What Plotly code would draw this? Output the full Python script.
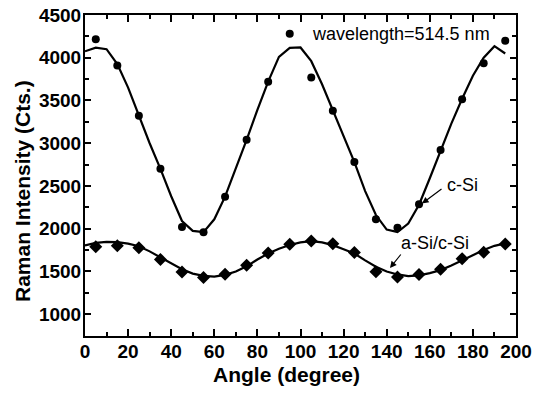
import plotly.graph_objects as go

# ---- data ----
point_angles = [5, 15, 25, 35, 45, 55, 65, 75, 85, 95, 105, 115, 125, 135, 145, 155, 165, 175, 185, 195]
csi_points = [4215, 3910, 3320, 2700, 2020, 1960, 2375, 3040, 3720, 4280, 3770, 3380, 2780, 2110, 2010, 2285, 2920, 3515, 3935, 4200]
asi_points = [1789, 1800, 1777, 1641, 1495, 1430, 1467, 1573, 1715, 1818, 1855, 1825, 1722, 1496, 1436, 1465, 1525, 1650, 1725, 1820]

fit_angles = [0, 5, 10, 15, 20, 25, 30, 35, 40, 45, 50, 55, 60, 65, 70, 75, 80, 85, 90, 95,
              100, 105, 110, 115, 120, 125, 130, 135, 140, 145, 150, 155, 160, 165, 170, 175, 180, 185, 190, 195]
csi_fit = [4075, 4118, 4100, 3925, 3650, 3320, 3000, 2700, 2380, 2090, 1975, 1960, 2110, 2375, 2700, 3040, 3390, 3720, 4010, 4115,
           4120, 3960, 3690, 3390, 3080, 2780, 2440, 2160, 1990, 1960, 2060, 2280, 2590, 2920, 3230, 3520, 3790, 4000, 4135, 4050]
asi_fit = [1805, 1835, 1847, 1843, 1825, 1795, 1735, 1665, 1590, 1525, 1475, 1448, 1440, 1460, 1500, 1560, 1640, 1710, 1765, 1810,
           1840, 1855, 1840, 1808, 1760, 1710, 1630, 1555, 1500, 1465, 1446, 1455, 1480, 1516, 1570, 1633, 1695, 1750, 1800, 1828]

x_tickvals = [0, 20, 40, 60, 80, 100, 120, 140, 160, 180, 200]
y_tickvals = [1000, 1500, 2000, 2500, 3000, 3500, 4000, 4500]

FONT = "Liberation Sans, Arial, sans-serif"

W, H = 535, 393
L, R, T, B = 85, 19, 15, 57
pw, ph = W - L - R, H - T - B

def px2paper(px, py):
    return (px - L) / pw, (H - B - py) / ph

fig = go.Figure()
fig.add_trace(go.Scatter(x=fit_angles, y=csi_fit, mode="lines",
                         line=dict(color="black", width=2.2), showlegend=False))
fig.add_trace(go.Scatter(x=fit_angles, y=asi_fit, mode="lines",
                         line=dict(color="black", width=2.2), showlegend=False))
fig.add_trace(go.Scatter(x=point_angles, y=csi_points, mode="markers",
                         marker=dict(symbol="circle", size=8, color="black"), showlegend=False))
fig.add_trace(go.Scatter(x=point_angles, y=asi_points, mode="markers",
                         marker=dict(symbol="diamond", size=10, color="black"), showlegend=False))

axis_common = dict(
    showgrid=False, zeroline=False, showline=True, linecolor="black", linewidth=2,
    mirror="ticks", ticks="inside", tickcolor="black", tickwidth=2, automargin=False,
    tickfont=dict(family=FONT, size=19, color="black", weight="bold"),
)

fig.update_xaxes(range=[0, 200], tickvals=x_tickvals, ticklen=7, ticklabelstandoff=-3,
                 minor=dict(dtick=10, ticks="inside", ticklen=4, tickcolor="black", tickwidth=2),
                 **axis_common)
fig.update_yaxes(range=[745, 4500], tickvals=y_tickvals, ticklen=6, ticklabelstandoff=-2,
                 minor=dict(dtick=250, ticks="inside", ticklen=4, tickcolor="black", tickwidth=2),
                 **axis_common)

ann_font = dict(family=FONT, size=18, color="black")
title_font = dict(family=FONT, size=21, color="black", weight="bold")

def text_at(txt, px, py, font, xanchor="center", **kw):
    x, y = px2paper(px, py)
    return dict(text=txt, x=x, y=y, xref="paper", yref="paper", showarrow=False, font=font,
                xanchor=xanchor, yanchor="middle", **kw)

def arrow(tail, head):
    hx, hy = px2paper(*head)
    return dict(text="", x=hx, y=hy, xref="paper", yref="paper",
                ax=tail[0] - head[0], ay=tail[1] - head[1],
                showarrow=True, arrowhead=2, arrowsize=1.1, arrowwidth=1.2, arrowcolor="black",
                standoff=0, startstandoff=0)

annotations = [
    text_at("wavelength=514.5 nm", 310, 34, ann_font, xanchor="left"),
    text_at("c-Si", 462, 185, ann_font),
    text_at("a-Si/c-Si", 435, 243, ann_font),
    text_at("Angle (degree)", 286, 374, title_font),
    text_at("Raman Intensity (Cts.)", 22, 191, title_font, textangle=-90),
    arrow((443, 188), (422, 203.5)),
    arrow((402, 253), (390, 268)),
]

fig.update_layout(
    template="none",
    width=W, height=H,
    margin=dict(l=L, r=R, t=T, b=B, pad=0),
    paper_bgcolor="white", plot_bgcolor="white",
    annotations=annotations,
)

fig.write_html("out.html", config={"displayModeBar": False},
               post_script="document.body.style.margin='0';document.body.style.overflow='hidden';")
